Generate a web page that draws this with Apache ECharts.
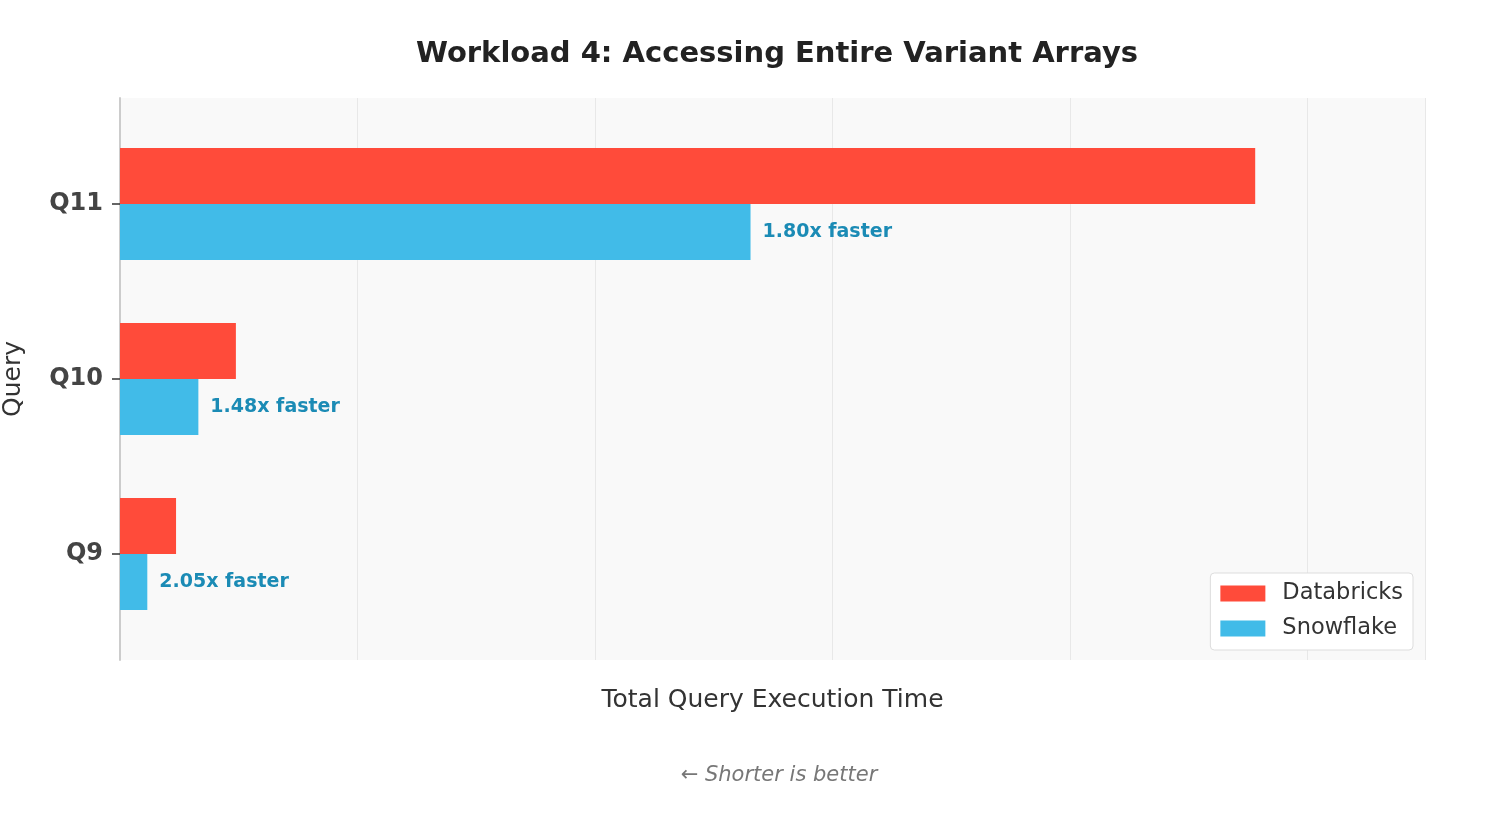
<!DOCTYPE html>
<html lang="en">
<head>
    <meta charset="utf-8">
    <title>Workload 4</title>
    <script src="https://cdn.jsdelivr.net/npm/echarts@6/dist/echarts.min.js"></script>
    <style>
        body { margin: 0; background: #fff; }
        #main { width: 1500px; height: 825px; }
    </style>
</head>
<body>
    <div id="main"></div>
    <script type="text/javascript">
        // values (one grid step = 1 unit)
        var queries = ['Q9', 'Q10', 'Q11'];
        var databricks = [0.236, 0.488, 4.78];
        var snowflake = [0.115, 0.33, 2.655];
        var speedups = ['2.05x faster', '1.48x faster', '1.80x faster'];

        var FONT = 'DejaVu Sans';
        var xMax = 5.495;

        var myChart = echarts.init(document.getElementById('main'));

        myChart.setOption({
            textStyle: { fontFamily: FONT },
            title: {
                text: 'Workload 4: Accessing Entire Variant Arrays',
                left: 772, textAlign: 'center', top: 35,
                textStyle: { fontSize: 29, fontWeight: 'bold', color: '#222', fontFamily: FONT }
            },
            legend: {
                data: ['Databricks', 'Snowflake'],
                orient: 'vertical',
                right: 87, top: 573,
                icon: 'rect',
                itemWidth: 45, itemHeight: 16, itemGap: 12,
                padding: [9, 10, 10, 10],
                backgroundColor: '#fff',
                borderColor: '#ddd', borderWidth: 1, borderRadius: 4,
                textStyle: { fontSize: 22.5, color: '#333', padding: [0, 0, 0, 12] }
            },
            grid: [
                { left: 120, right: 75, top: 98, bottom: 165, show: true, backgroundColor: '#f9f9f9', borderWidth: 0, outerBoundsMode: 'none' },
                { left: 120, right: 75, top: 116.5, bottom: 183.5, outerBoundsMode: 'none' }
            ],
            xAxis: [{
                gridIndex: 0, type: 'value', min: 0, max: xMax, interval: 1,
                axisLine: { show: false }, axisTick: { show: false }, axisLabel: { show: false },
                splitLine: { lineStyle: { color: '#e8e8e8', width: 1 } },
                name: 'Total Query Execution Time', nameLocation: 'middle', nameGap: 28,
                nameTextStyle: { fontSize: 25, color: '#333' }
            }, {
                gridIndex: 1, type: 'value', min: 0, max: xMax, show: false
            }],
            yAxis: [{
                gridIndex: 0, type: 'value',
                axisLine: { show: true, lineStyle: { color: '#cccccc', width: 2 } },
                axisTick: { show: false }, axisLabel: { show: false }, splitLine: { show: false }
            }, {
                gridIndex: 1, type: 'category', data: queries,
                axisLine: { show: false },
                axisTick: { show: true, alignWithLabel: true, length: 8, lineStyle: { color: '#333', width: 1.5 } },
                axisLabel: { fontSize: 24, fontWeight: 'bold', color: '#444', margin: 17, padding: [6, 0, 0, 0] },
                name: 'Query', nameLocation: 'middle', nameGap: 94, nameRotate: 90,
                nameTextStyle: { fontSize: 25, color: '#333' }
            }],
            series: [{
                name: 'Databricks', type: 'bar', xAxisIndex: 1, yAxisIndex: 1,
                data: databricks, barWidth: 56, barGap: '0%',
                itemStyle: { color: '#ff4b3a' }
            }, {
                name: 'Snowflake', type: 'bar', xAxisIndex: 1, yAxisIndex: 1,
                data: snowflake, barWidth: 56, barGap: '0%',
                itemStyle: { color: '#41bbe8' },
                label: {
                    show: true, position: 'right', distance: 12,
                    formatter: function (p) { return speedups[p.dataIndex]; },
                    fontSize: 19, fontWeight: 'bold', color: '#1b8bb5'
                }
            }],
            graphic: [{
                type: 'text', x: 779, y: 776,
                style: {
                    text: '\u2190 Shorter is better',
                    font: 'italic 21px "DejaVu Sans"', fill: '#777',
                    textAlign: 'center', textVerticalAlign: 'middle'
                }
            }]
        });
    </script>
</body>
</html>
